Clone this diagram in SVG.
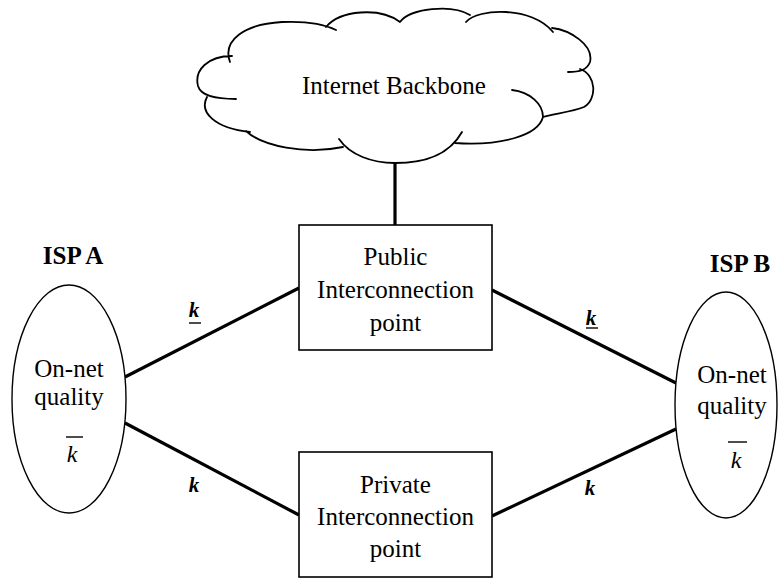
<svg xmlns="http://www.w3.org/2000/svg" width="780" height="578" viewBox="0 0 780 578">
<style>
text{font-family:"Liberation Serif","Times New Roman",serif;fill:#000}
.t{font-size:25px;text-anchor:middle}
.isp{font-size:25px;font-weight:bold;text-anchor:middle}
.kb{font-size:21px;font-weight:bold;font-style:italic;text-anchor:middle}
.ki{font-size:24px;font-style:italic;text-anchor:middle}
.box{fill:#fff;stroke:#000;stroke-width:1.6}
.ell{fill:#fff;stroke:#000;stroke-width:1.4}
.cloud{fill:none;stroke:#000;stroke-width:1.8;stroke-linecap:round}
.conn{stroke:#000;stroke-width:3.2;fill:none}
.thin{stroke:#000;stroke-width:1.4}
</style>
<rect width="780" height="578" fill="#fff"/>
<g id="connectors">
<line class="conn" x1="395" y1="162" x2="395" y2="225"/>
<line class="conn" x1="125" y1="377" x2="299" y2="288"/>
<line class="conn" x1="125" y1="423" x2="299" y2="515"/>
<line class="conn" x1="492" y1="290" x2="676" y2="383"/>
<line class="conn" x1="676" y1="429" x2="492" y2="516"/>
<text class="kb" x="194" y="317">k</text>
<line class="thin" x1="189" y1="323" x2="201" y2="323"/>
<text class="kb" x="591" y="325">k</text>
<line class="thin" x1="586" y1="328" x2="598" y2="328"/>
<text class="kb" x="194" y="492">k</text>
<text class="kb" x="590" y="495">k</text>
</g>
<g id="backbone">
<path d="M230,62 C222,40 245,24 282,22 C305,21 322,23 336,30 M326,27 C340,10 380,7 400,22 M400,22 C410,8 452,4 470,15 M466,22 C478,8 532,6 553,32 M552,28 C570,30 594,45 590,62 C587,70 580,72 568,72 M580,69 C597,75 597,100 584,107 C572,112 552,114 543,117 C543,104 530,92 512,90 M543,117 C538,136 500,146 455,143 M462,132 C448,157 422,163 395,163 C372,163 350,155 339,139 M343,147 C305,155 262,146 246,131 M250,132 C214,128 199,112 207,97 M236,99 C215,99 201,96 198,86 C194,70 208,56 232,56" class="cloud"/>
<text class="t" x="394" y="94">Internet Backbone</text>
</g>
<g id="public">
<rect class="box" x="299" y="225" width="193" height="125"/>
<text class="t" x="395.5" y="265">Public</text>
<text class="t" x="395.5" y="298">Interconnection</text>
<text class="t" x="395.5" y="331">point</text>
</g>
<g id="private">
<rect class="box" x="299" y="452" width="193" height="125"/>
<text class="t" x="395.5" y="493">Private</text>
<text class="t" x="395.5" y="525">Interconnection</text>
<text class="t" x="395.5" y="557">point</text>
</g>
<g id="ispA">
<text class="isp" x="73" y="264">ISP A</text>
<ellipse class="ell" cx="69" cy="399" rx="57" ry="114"/>
<text class="t" x="69" y="377">On-net</text>
<text class="t" x="69" y="405">quality</text>
<line class="thin" x1="66" y1="437" x2="83" y2="437"/>
<text class="ki" x="72" y="462">k</text>
</g>
<g id="ispB">
<text class="isp" x="740" y="272">ISP B</text>
<ellipse class="ell" cx="726" cy="405" rx="51" ry="113"/>
<text class="t" x="732" y="383">On-net</text>
<text class="t" x="732" y="414">quality</text>
<line class="thin" x1="728" y1="442" x2="747" y2="442"/>
<text class="ki" x="736" y="468">k</text>
</g>
</svg>
